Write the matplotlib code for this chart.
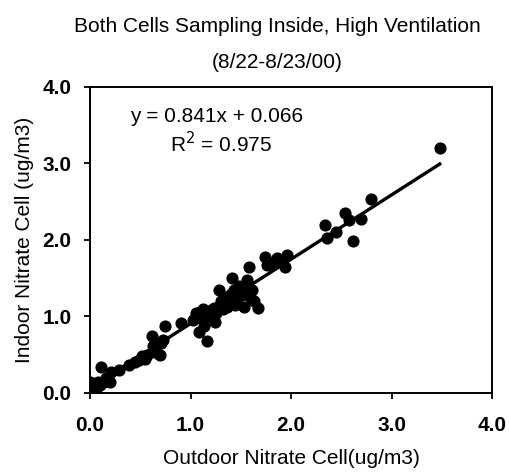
import matplotlib; matplotlib.use('Agg')
import matplotlib.pyplot as plt
import numpy as np

plt.rcParams['font.family'] = ['Liberation Sans', 'DejaVu Sans']

# outdoor (x) vs indoor (y) nitrate, ug/m3
outdoor = [0.00, 0.03, 0.06, 0.08, 0.10, 0.11, 0.14, 0.16, 0.21, 0.20,
           0.29, 0.39, 0.45, 0.49, 0.52, 0.57, 0.55, 0.62, 0.63, 0.67,
           0.70, 0.71, 0.73, 0.75, 0.91, 1.02, 1.05, 1.08, 1.09, 1.10,
           1.13, 1.12, 1.16, 1.16, 1.18, 1.20, 1.23, 1.24, 1.25, 1.28,
           1.29, 1.30, 1.32, 1.35, 1.36, 1.38, 1.40, 1.41, 1.43, 1.44,
           1.46, 1.48, 1.50, 1.53, 1.55, 1.56, 1.58, 1.59, 1.61, 1.63,
           1.67, 1.74, 1.76, 1.80, 1.86, 1.90, 1.94, 1.96, 2.34, 2.36,
           2.45, 2.54, 2.58, 2.62, 2.70, 2.80, 3.48]
indoor = [0.15, 0.12, 0.05, 0.14, 0.10, 0.34, 0.15, 0.19, 0.28, 0.14,
          0.30, 0.37, 0.40, 0.43, 0.48, 0.50, 0.45, 0.74, 0.61, 0.52,
          0.50, 0.65, 0.69, 0.88, 0.91, 0.95, 1.05, 0.80, 1.06, 0.98,
          0.87, 1.10, 0.68, 1.04, 1.00, 1.08, 1.11, 0.93, 1.05, 1.35,
          1.15, 1.20, 1.10, 1.25, 1.13, 1.18, 1.30, 1.50, 1.35, 1.15,
          1.22, 1.40, 1.28, 1.13, 1.30, 1.48, 1.65, 1.26, 1.35, 1.20,
          1.11, 1.78, 1.67, 1.70, 1.76, 1.72, 1.65, 1.80, 2.20, 2.02,
          2.11, 2.35, 2.26, 1.99, 2.28, 2.53, 3.20]
slope, intercept, r2 = 0.841, 0.066, 0.975
ticks = [0.0, 1.0, 2.0, 3.0, 4.0]

fig = plt.figure(figsize=(5.1, 4.72), dpi=100)
ax = fig.add_axes([0.1765, 0.1674, 0.7882, 0.6483])

ax.scatter(outdoor, indoor, s=60, color='black', zorder=3)
xl = np.array([min(outdoor), max(outdoor)])
ax.plot(xl, slope*xl + intercept, color='black', lw=2.4, zorder=2)

ax.set_xlim(0, 4); ax.set_ylim(0, 4)
ax.set_xticks(ticks); ax.set_yticks(ticks)
ax.set_xticklabels([f'{t:.1f}' for t in ticks], fontsize=15, fontweight='bold')
ax.set_yticklabels([f'{t:.1f}' for t in ticks], fontsize=15, fontweight='bold')
ax.tick_params(direction='out', length=4.5, width=1.3)
ax.tick_params(axis='x', pad=12)
ax.tick_params(axis='y', pad=9)
for s in ax.spines.values():
    s.set_linewidth(1.4)

ax.text(0.10, 0.905, f'y = {slope:.3f}x + {intercept:.3f}', transform=ax.transAxes,
        fontsize=15, va='center')
ax.text(0.199, 0.815, f'R$^2$ = {r2:.3f}', transform=ax.transAxes, fontsize=15, va='center')

ax.set_xlabel('Outdoor Nitrate Cell(ug/m3)', fontsize=15, labelpad=10)
ax.set_ylabel('Indoor Nitrate Cell (ug/m3)', fontsize=15, labelpad=6)

fig.text(0.543, 0.943, 'Both Cells Sampling Inside, High Ventilation', ha='center', va='center', fontsize=15)
fig.text(0.543, 0.867, '(8/22-8/23/00)', ha='center', va='center', fontsize=15)

plt.savefig('out.png', dpi=100)
